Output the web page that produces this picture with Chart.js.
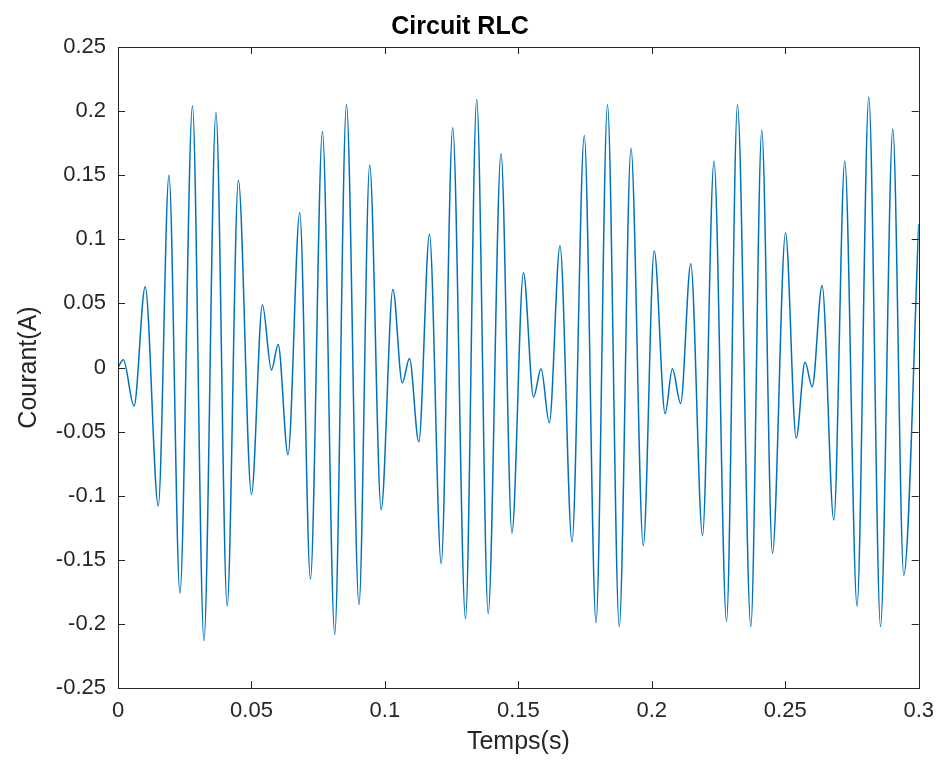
<!DOCTYPE html>
<html>
<head>
<meta charset="utf-8">
<title>Circuit RLC</title>
<script src="https://cdn.jsdelivr.net/npm/chart.js@4.4.1/dist/chart.umd.min.js"></script>
<style>
    html, body { margin: 0; padding: 0; background: #ffffff; }
    #wrap { width: 944px; height: 769px; }
</style>
</head>
<body>
<div id="wrap"><canvas id="rlcChart" width="944" height="769"></canvas></div>
<script>
// Time of each turning point of the current (s)
const temps = [
    0, 0.0020, 0.0060, 0.0102, 0.0151, 0.0191, 0.0232, 0.0279, 0.0322, 0.0367,
    0.0409, 0.0451, 0.0500, 0.0541, 0.0575, 0.0600, 0.0637, 0.0681, 0.0721, 0.0766,
    0.0812, 0.0856, 0.0903, 0.0943, 0.0986, 0.1030, 0.1065, 0.1092, 0.1127, 0.1167,
    0.1211, 0.1254, 0.1302, 0.1344, 0.1387, 0.1435, 0.1476, 0.1519, 0.1557, 0.1585,
    0.1616, 0.1656, 0.1701, 0.1747, 0.1791, 0.1834, 0.1878, 0.1922, 0.1968, 0.2009,
    0.2050, 0.2077, 0.2108, 0.2146, 0.2190, 0.2233, 0.2280, 0.2321, 0.2371, 0.2412,
    0.2452, 0.2501, 0.2541, 0.2574, 0.2601, 0.2638, 0.2682, 0.2723, 0.2769, 0.2813,
    0.2857, 0.2903, 0.2944, 0.3000
];

// Current (A) at those points
const courant = [
    0, 0.006, -0.030, 0.063, -0.108, 0.150, -0.176, 0.204, -0.213, 0.199,
    -0.186, 0.146, -0.099, 0.049, -0.002, 0.018, -0.068, 0.121, -0.165, 0.184,
    -0.208, 0.205, -0.185, 0.158, -0.111, 0.061, -0.012, 0.007, -0.058, 0.104,
    -0.153, 0.187, -0.196, 0.209, -0.192, 0.167, -0.129, 0.074, -0.023, -0.001,
    -0.043, 0.095, -0.136, 0.181, -0.199, 0.205, -0.202, 0.171, -0.139, 0.091,
    -0.036, -0.001, -0.028, 0.081, -0.131, 0.161, -0.198, 0.205, -0.202, 0.185,
    -0.145, 0.105, -0.055, 0.004, -0.015, 0.064, -0.119, 0.161, -0.186, 0.211,
    -0.202, 0.186, -0.162, 0.112
];

// Axis ticks
const xTicks = [0, 0.05, 0.1, 0.15, 0.2, 0.25, 0.3];
const yTicks = [-0.25, -0.2, -0.15, -0.1, -0.05, 0, 0.05, 0.1, 0.15, 0.2, 0.25];

const AXIS_COLOR = '#262626';
const LINE_COLOR = '#0072BD';
const FONT = '"Liberation Sans", Arial, Helvetica, sans-serif';
const TICK_LEN = 7;

// Format like MATLAB: 0.2 not 0.20, 0 not 0.00
function fmt(v) {
    return String(Number(v.toFixed(2)));
}

// Box round the axes with ticks pointing inward on all four sides
const matlabBox = {
    id: 'matlabBox',
    afterDraw(chart) {
        const ctx = chart.ctx;
        const a = chart.chartArea;
        const x = chart.scales.x;
        const y = chart.scales.y;
        ctx.save();
        ctx.strokeStyle = AXIS_COLOR;
        ctx.lineWidth = 1;
        ctx.beginPath();
        xTicks.forEach(v => {
            const px = Math.round(x.getPixelForValue(v)) + 0.5;
            ctx.moveTo(px, a.bottom);
            ctx.lineTo(px, a.bottom - TICK_LEN);
            ctx.moveTo(px, a.top);
            ctx.lineTo(px, a.top + TICK_LEN);
        });
        yTicks.forEach(v => {
            const py = Math.round(y.getPixelForValue(v)) + 0.5;
            ctx.moveTo(a.left, py);
            ctx.lineTo(a.left + TICK_LEN, py);
            ctx.moveTo(a.right, py);
            ctx.lineTo(a.right - TICK_LEN, py);
        });
        ctx.stroke();
        ctx.strokeRect(Math.round(a.left) + 0.5, Math.round(a.top) + 0.5,
            Math.round(a.right - a.left), Math.round(a.bottom - a.top));
        ctx.restore();
    }
};

document.addEventListener('DOMContentLoaded', function() {
    const points = temps.map((t, i) => ({ x: t, y: courant[i] }));
    const ctx = document.getElementById('rlcChart').getContext('2d');

    new Chart(ctx, {
        type: 'line',
        data: {
            datasets: [{
                label: 'Courant',
                data: points,
                borderColor: LINE_COLOR,
                borderWidth: 1.5,
                pointRadius: 0,
                fill: false,
                cubicInterpolationMode: 'monotone'
            }]
        },
        options: {
            responsive: false,
            animation: false,
            layout: { padding: { left: 0, right: 24, top: 0, bottom: 0 } },
            plugins: {
                legend: { display: false },
                tooltip: { enabled: false },
                title: {
                    display: true,
                    text: 'Circuit RLC',
                    color: '#000000',
                    font: { family: FONT, size: 25, weight: 'bold' },
                    padding: { top: 12, bottom: 5 }
                }
            },
            scales: {
                x: {
                    type: 'linear',
                    min: 0,
                    max: 0.3,
                    afterBuildTicks: scale => { scale.ticks = xTicks.map(v => ({ value: v })); },
                    afterFit: scale => { scale.height = 81; },
                    grid: { display: false, drawTicks: false },
                    border: { display: false },
                    ticks: {
                        color: AXIS_COLOR,
                        padding: 10,
                        maxRotation: 0,
                        font: { family: FONT, size: 22 },
                        callback: v => fmt(v)
                    },
                    title: {
                        display: true,
                        text: 'Temps(s)',
                        color: AXIS_COLOR,
                        font: { family: FONT, size: 25 },
                        padding: { top: 4, bottom: 12 }
                    }
                },
                y: {
                    type: 'linear',
                    min: -0.25,
                    max: 0.25,
                    afterBuildTicks: scale => { scale.ticks = yTicks.map(v => ({ value: v })); },
                    afterFit: scale => { scale.width = 118; },
                    grid: { display: false, drawTicks: false },
                    border: { display: false },
                    ticks: {
                        color: AXIS_COLOR,
                        padding: 12,
                        font: { family: FONT, size: 22 },
                        callback: v => fmt(v)
                    },
                    title: {
                        display: true,
                        text: 'Courant(A)',
                        color: AXIS_COLOR,
                        font: { family: FONT, size: 25 },
                        padding: { top: 14, bottom: 4 }
                    }
                }
            }
        },
        plugins: [matlabBox]
    });
});
</script>
</body>
</html>
